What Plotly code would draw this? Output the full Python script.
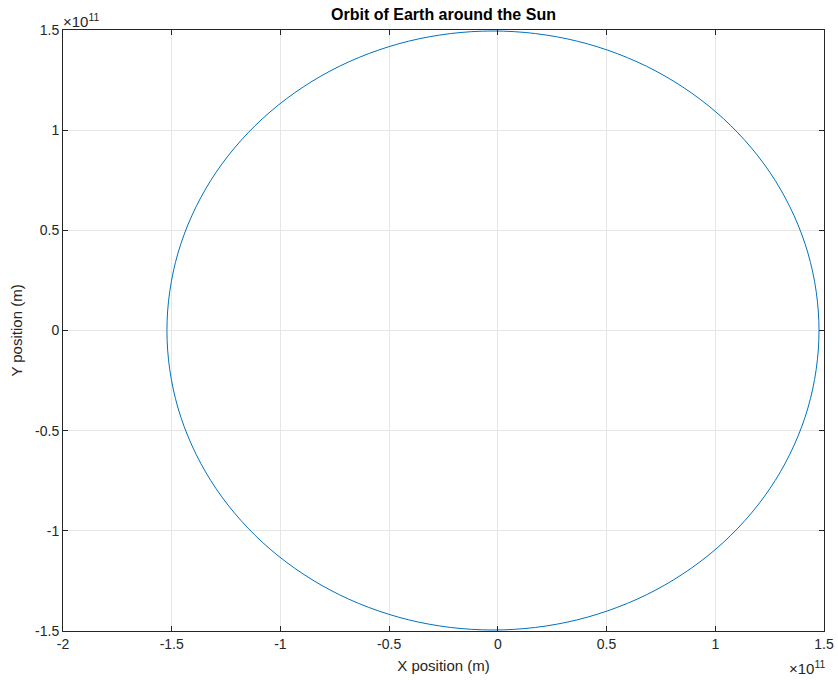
import plotly.graph_objects as go

# Orbit positions (units of 1e11 m), closed loop
x_pos = [1.477, 1.426, 1.276, 1.038, 0.727, 0.366, -0.0225, -0.411, -0.772, -1.083, -1.321, -1.471,
         -1.522, -1.471, -1.321, -1.083, -0.772, -0.411, -0.0225, 0.366, 0.727, 1.038, 1.276, 1.426, 1.477]
y_pos = [0.0, 0.387, 0.748, 1.057, 1.295, 1.444, 1.495, 1.444, 1.295, 1.057, 0.748, 0.387,
         0.0, -0.387, -0.748, -1.057, -1.295, -1.444, -1.495, -1.444, -1.295, -1.057, -0.748, -0.387, 0.0]
scale = 1e11

x_ticks = [-2, -1.5, -1, -0.5, 0, 0.5, 1, 1.5]
x_tick_labels = ["-2", "-1.5", "-1", "-0.5", "0", "0.5", "1", "1.5"]
y_ticks = [-1.5, -1, -0.5, 0, 0.5, 1, 1.5]
y_tick_labels = ["-1.5", "-1", "-0.5", "0", "0.5", "1", "1.5"]

fig = go.Figure()
fig.add_trace(go.Scatter(
    x=[v * scale for v in x_pos], y=[v * scale for v in y_pos],
    mode="lines", line=dict(color="#0072BD", width=1, shape="spline", smoothing=1.0),
    showlegend=False, hoverinfo="skip"))

font_family = "Liberation Sans, Arial, sans-serif"
axis_common = dict(
    showline=True, linecolor="#262626", linewidth=1, mirror="ticks",
    ticks="inside", ticklen=5, tickcolor="#262626",
    showgrid=True, gridcolor="#E6E6E6", gridwidth=1, zeroline=False,
    automargin=False,
    tickfont=dict(family=font_family, size=14, color="#262626"),
)

exp_text = "×10<sup>11</sup>"

fig.update_layout(
    width=838, height=680,
    margin=dict(l=63, r=14, t=30, b=49),
    paper_bgcolor="white", plot_bgcolor="white",
    title=dict(text="<b>Orbit of Earth around the Sun</b>", x=0.5, xref="paper",
               y=1.0, yref="container", yanchor="top", pad=dict(t=9),
               font=dict(family=font_family, size=16, color="black")),
    xaxis=dict(range=[-2 * scale, 1.5 * scale],
               tickvals=[v * scale for v in x_ticks], ticktext=x_tick_labels,
               title=dict(text="X position (m)", standoff=9,
                          font=dict(family=font_family, size=15, color="#262626")),
               **axis_common),
    yaxis=dict(range=[-1.5 * scale, 1.5 * scale],
               tickvals=[v * scale for v in y_ticks], ticktext=y_tick_labels,
               title=dict(text="Y position (m)", standoff=8,
                          font=dict(family=font_family, size=15, color="#262626")),
               **axis_common),
    annotations=[
        dict(text=exp_text, x=0, y=1, xref="paper", yref="paper",
             xanchor="left", yanchor="bottom", showarrow=False, yshift=-2, xshift=-2,
             font=dict(family=font_family, size=15, color="#262626")),
        dict(text=exp_text, x=1, y=0, xref="paper", yref="paper",
             xanchor="right", yanchor="top", showarrow=False, yshift=-25, xshift=4,
             font=dict(family=font_family, size=15, color="#262626")),
    ],
)

fig.write_html("out.html")
